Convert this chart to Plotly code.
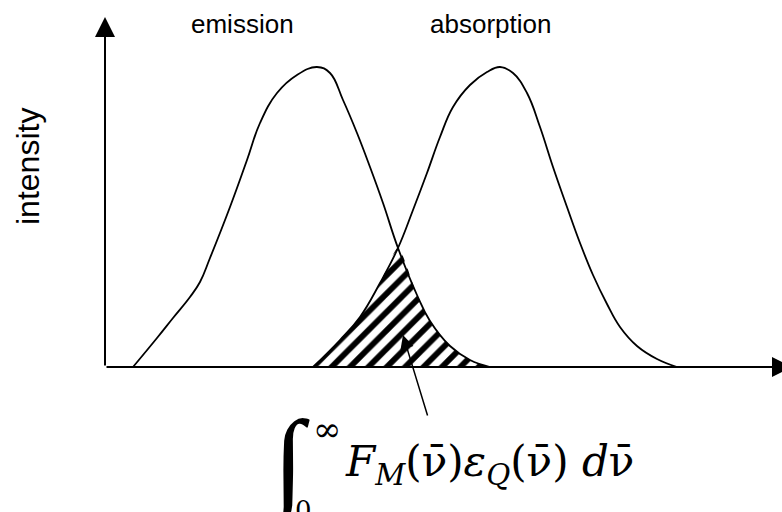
import plotly.graph_objects as go

# Band profiles: wavenumber position (arbitrary units) and relative intensity
emission_x = [28, 52, 68, 85, 95, 105, 125, 142, 155, 172, 192, 212, 225, 238, 252, 265, 278, 293, 312, 325, 345, 365, 385]
emission_y = [0, 29, 49, 70, 85, 109, 160, 207, 244, 274, 292, 300, 294, 267, 234, 200, 164, 119, 72, 46, 21, 7, 0]

absorption_x = [208, 235, 255, 275, 293, 308, 322, 335, 348, 365, 382, 395, 408, 422, 435, 448, 462, 475, 488, 502, 515, 532, 552, 572]
absorption_y = [0, 27, 50, 84, 119, 157, 194, 230, 260, 282, 295, 300, 294, 274, 240, 200, 160, 124, 92, 63, 40, 21, 8, 0]

band_labels = ["emission", "absorption"]
y_label = "intensity"

# point shared by both bands where they intersect
cross_x = 293

# overlap region: rising edge of absorption up to the crossing, then falling edge of emission
overlap_x = [x for x in absorption_x if x <= cross_x] + [x for x in emission_x if x > cross_x]
overlap_y = [y for x, y in zip(absorption_x, absorption_y) if x <= cross_x] + \
            [y for x, y in zip(emission_x, emission_y) if x > cross_x]

fig = go.Figure()

fig.add_trace(go.Scatter(
    x=overlap_x, y=overlap_y, mode="lines", fill="tozeroy",
    line=dict(width=0, color="black", shape="spline", smoothing=0.6),
    fillpattern=dict(shape="/", size=13, solidity=0.45, fgcolor="black",
                     bgcolor="white", fgopacity=1),
    hoverinfo="skip",
))

for xs, ys in [(emission_x, emission_y), (absorption_x, absorption_y)]:
    fig.add_trace(go.Scatter(
        x=xs, y=ys, mode="lines",
        line=dict(color="black", width=1.8, shape="spline", smoothing=1.2),
        hoverinfo="skip",
    ))

annotations = []

# axes drawn as arrows from the origin
axis_arrow = dict(axref="x", ayref="y", xref="x", yref="y", text="", showarrow=True,
                  arrowhead=2, arrowsize=2.0, arrowwidth=2, arrowcolor="black",
                  standoff=0, startstandoff=0)
annotations.append(dict(x=0, y=350, ax=0, ay=0, **axis_arrow))
annotations.append(dict(x=687, y=0, ax=0, ay=0, **axis_arrow))

# pointer from the overlap integral to the hatched area
annotations.append(dict(x=298, y=32, ax=323, ay=-50, axref="x", ayref="y", xref="x", yref="y",
                        text="", showarrow=True, arrowhead=2, arrowsize=1.8, arrowwidth=1.5,
                        arrowcolor="black", standoff=0, startstandoff=0))

label_font = dict(family="Liberation Sans, Arial, sans-serif", size=26, color="black")
annotations.append(dict(x=137.5, y=343, xref="x", yref="y", text=band_labels[0],
                        showarrow=False, font=label_font))
annotations.append(dict(x=385, y=343, xref="x", yref="y", text=band_labels[1],
                        showarrow=False, font=label_font))
annotations.append(dict(x=-77, y=200, xref="x", yref="y", text=y_label, textangle=-90,
                        showarrow=False,
                        font=dict(family="Liberation Sans, Arial, sans-serif", size=32, color="black")))

# overlap integral
math_font = "DejaVu Serif, serif"
annotations.append(dict(x=183, y=-96, xref="x", yref="y", text="∫", showarrow=False,
                        font=dict(family="Liberation Serif, serif", size=112, color="black")))
annotations.append(dict(x=222, y=-62, xref="x", yref="y", text="∞", showarrow=False,
                        font=dict(family=math_font, size=34, color="black")))
annotations.append(dict(x=198, y=-143, xref="x", yref="y", text="0", showarrow=False,
                        font=dict(family=math_font, size=26, color="black")))
nu = "ν\u0304"
annotations.append(dict(
    x=238, y=-97, xref="x", yref="y", xanchor="left", showarrow=False,
    text=f"<i>F</i><sub><i>M</i></sub>({nu})<i>ε</i><sub><i>Q</i></sub>({nu}) <i>d</i>{nu}",
    font=dict(family=math_font, size=42, color="black"),
))

fig.update_layout(
    width=782, height=512, autosize=False,
    margin=dict(l=0, r=0, t=0, b=0),
    plot_bgcolor="white", paper_bgcolor="white",
    showlegend=False,
    xaxis=dict(range=[-105, 677], visible=False, fixedrange=True),
    yaxis=dict(range=[-145, 367], visible=False, fixedrange=True),
    annotations=annotations,
)

fig.write_html("out.html")
